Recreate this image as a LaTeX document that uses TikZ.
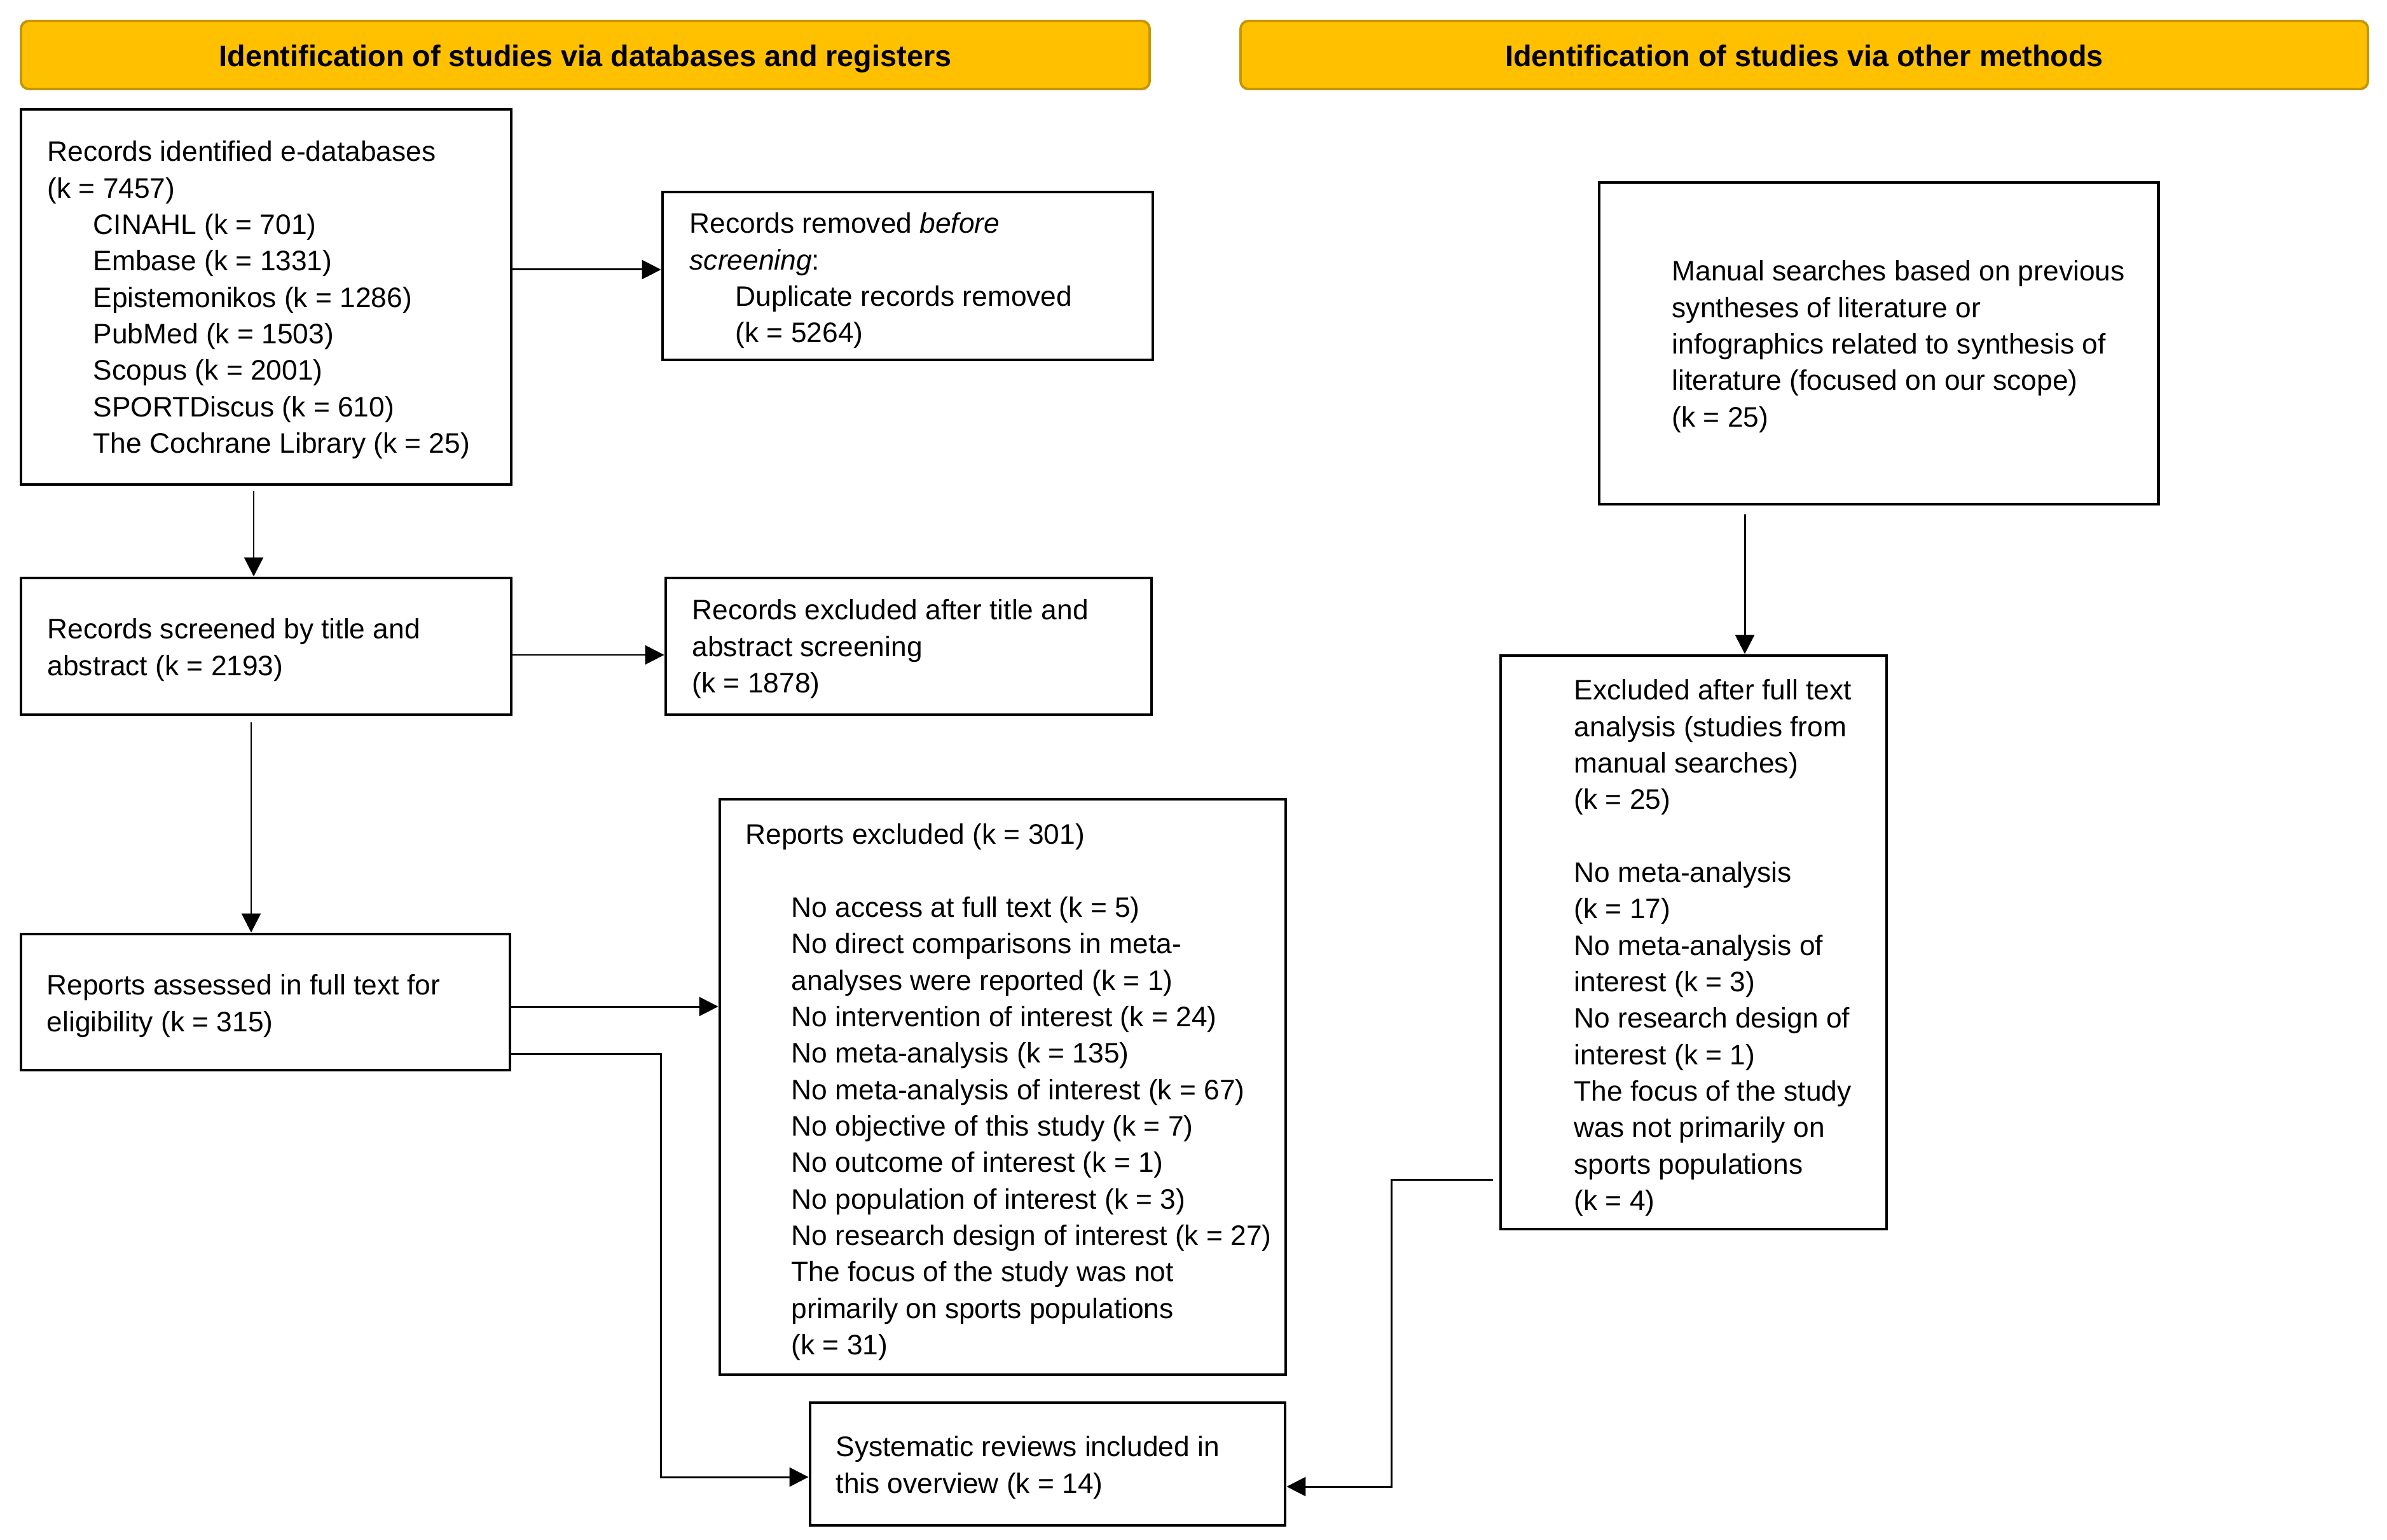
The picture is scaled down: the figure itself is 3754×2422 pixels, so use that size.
\documentclass[tikz,border=0pt]{standalone}
\usepackage{fontspec}
\setmainfont{Liberation Sans}
\usetikzlibrary{arrows.meta,fit}
\definecolor{hdrfill}{RGB}{255,192,0}
\definecolor{hdrdraw}{RGB}{196,150,0}
\newcommand\ind{\hspace*{20.5pt}}
\begin{document}
\begin{tikzpicture}[x=0.01cm,y=-0.01cm,
  box/.style={draw=black,line width=1.4pt,inner sep=0pt},
  hdr/.style={draw=hdrdraw,fill=hdrfill,line width=1.1pt,rounded corners=3.5pt,inner sep=0pt},
  hdrtxt/.style={inner sep=0pt,text height=9.4pt,text depth=3pt,yshift=-2pt,font=\fontsize{13.3}{16}\selectfont\bfseries},
  txt/.style={font=\fontsize{12.6}{16.3}\selectfont,align=left,inner sep=0pt,anchor=north west},
  arr/.style={line width=0.85pt,-{Triangle[length=8.5pt,width=8.5pt]}},
  ln/.style={line width=0.85pt}]
\useasboundingbox (0,0) rectangle (3754,2422);
% headers
\node[hdr,fit={(33,33)(1808,140)}] (h1) {};
\node[hdr,fit={(1951,33)(3724,140)}] (h2) {};
\node[hdrtxt] (h1t) at (h1.center) {Identification of studies via databases and registers};
\node[hdrtxt] (h2t) at (h2.center) {Identification of studies via other methods};
% boxes
\node[box,fit={(33,172)(804,762)}] (A) {};
\node[box,fit={(1042,302)(1813,566)}] (B) {};
\node[box,fit={(33,909)(804,1124)}] (C) {};
\node[box,fit={(1047,909)(1811,1124)}] (D) {};
\node[box,fit={(33,1469)(802,1683)}] (E) {};
\node[box,fit={(1132,1257)(2022,2162)}] (F) {};
\node[box,fit={(1274,2206)(2021,2399)}] (G) {};
\node[box,fit={(2515,287)(3394,793)}] (H) {};
\node[box,fit={(2360,1031)(2967,1933)}] (I) {};
% texts
\node[txt] (tA) at (74,213) {\strut Records identified e-databases\\(k = 7457)\\
\ind CINAHL (k = 701)\\\ind Embase (k = 1331)\\\ind Epistemonikos (k = 1286)\\
\ind PubMed (k = 1503)\\\ind Scopus (k = 2001)\\\ind SPORTDiscus (k = 610)\\
\ind The Cochrane Library (k = 25)};
\node[txt] (tB) at (1084,326) {\strut Records removed \textit{before}\\\textit{screening}:\\
\ind Duplicate records removed\\\ind (k = 5264)};
\node[txt] (tC) at (74,964) {\strut Records screened by title and\\abstract (k = 2193)};
\node[txt] (tD) at (1088,934) {\strut Records excluded after title and\\abstract screening\\(k = 1878)};
\node[txt] (tE) at (73,1524) {\strut Reports assessed in full text for\\eligibility (k = 315)};
\node[txt] (tF) at (1172,1287) {\strut Reports excluded (k = 301)\\[16.3pt]
\ind No access at full text (k = 5)\\
\ind No direct comparisons in meta-\\
\ind analyses were reported (k = 1)\\
\ind No intervention of interest (k = 24)\\
\ind No meta-analysis (k = 135)\\
\ind No meta-analysis of interest (k = 67)\\
\ind No objective of this study (k = 7)\\
\ind No outcome of interest (k = 1)\\
\ind No population of interest (k = 3)\\
\ind No research design of interest (k = 27)\\
\ind The focus of the study was not\\
\ind primarily on sports populations\\
\ind (k = 31)};
\node[txt] (tG) at (1314,2250) {\strut Systematic reviews included in\\this overview (k = 14)};
\node[txt] (tH) at (2629,401) {\strut Manual searches based on previous\\syntheses of literature or\\
infographics related to synthesis of\\literature (focused on our scope)\\(k = 25)};
\node[txt] (tI) at (2475,1060) {\strut Excluded after full text\\analysis (studies from\\manual searches)\\(k = 25)\\[16.3pt]
No meta-analysis\\(k = 17)\\No meta-analysis of\\interest (k = 3)\\No research design of\\interest (k = 1)\\
The focus of the study\\was not primarily on\\sports populations\\(k = 4)};
% connectors
\coordinate (e1) at (1039,2323);
\coordinate (i1) at (2188,1855);
\draw[arr] (A.east |- 0,424) -- (B.west |- 0,424);
\draw[arr] (C.east |- 0,1030) -- (D.west |- 0,1030);
\draw[arr] (E.east |- 0,1583) -- (F.west |- 0,1583);
\draw[arr,shorten <=0.08cm] (A.south -| 399,0) -- (C.north -| 399,0);
\draw[arr,shorten <=0.1cm] (C.south -| 395,0) -- (E.north -| 395,0);
\draw[arr,shorten <=0.14cm] (H.south -| 2744,0) -- (I.north -| 2744,0);
\draw[arr] (E.east |- 0,1657) -| (e1) -- (G.west |- e1);
\draw[arr,shorten <=0.1cm] (I.west |- i1) -- (i1) |- (G.east |- 0,2338);
\end{tikzpicture}
\end{document}
